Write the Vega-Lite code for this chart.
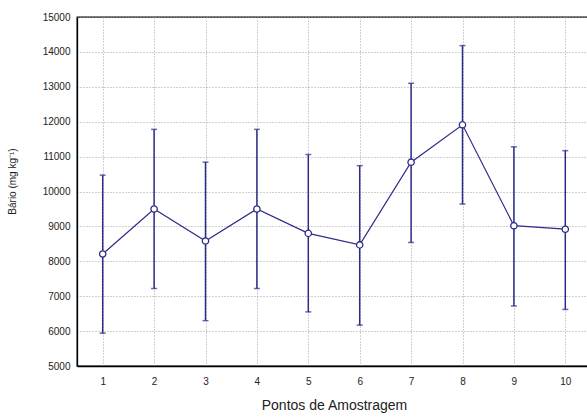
{
  "$schema": "https://vega.github.io/schema/vega-lite/v6.json",
  "autosize": "none",
  "padding": {"left": 77, "top": 17, "right": 0, "bottom": 52},
  "width": 514,
  "height": 349,
  "background": "white",
  "config": {
    "font": "Liberation Sans",
    "view": {"stroke": "#000000", "strokeWidth": 1.3},
    "axis": {
      "gridColor": "#a0a0a0",
      "gridDash": [1, 2],
      "gridOpacity": 1,
      "gridWidth": 1,
      "domain": true,
      "domainColor": "#000000",
      "domainWidth": 1.3,
      "ticks": false,
      "labelColor": "#222222",
      "labelFontSize": 10,
      "labelOverlap": false,
      "labelBound": false,
      "titleColor": "#222222",
      "titleFontWeight": "normal"
    }
  },
  "data": {
    "values": [
      {"ponto": 1, "media": 8210, "inf": 5940, "sup": 10470},
      {"ponto": 2, "media": 9500, "inf": 7220, "sup": 11780},
      {"ponto": 3, "media": 8580, "inf": 6300, "sup": 10840},
      {"ponto": 4, "media": 9500, "inf": 7220, "sup": 11780},
      {"ponto": 5, "media": 8800, "inf": 6550, "sup": 11060},
      {"ponto": 6, "media": 8470, "inf": 6170, "sup": 10740},
      {"ponto": 7, "media": 10840, "inf": 8540, "sup": 13100},
      {"ponto": 8, "media": 11910, "inf": 9640, "sup": 14180},
      {"ponto": 9, "media": 9020, "inf": 6720, "sup": 11280},
      {"ponto": 10, "media": 8920, "inf": 6620, "sup": 11170}
    ]
  },
  "encoding": {
    "x": {
      "field": "ponto",
      "type": "quantitative",
      "scale": {"domain": [0.5, 10.5], "nice": false, "zero": false},
      "axis": {
        "values": [1, 2, 3, 4, 5, 6, 7, 8, 9, 10],
        "title": "Pontos de Amostragem",
        "titleFontSize": 14,
        "titlePadding": 12,
        "labelPadding": 10
      }
    }
  },
  "layer": [
    {
      "mark": {"type": "rule", "color": "#2b2b8a", "strokeWidth": 1.5},
      "encoding": {
        "y": {
          "field": "inf",
          "type": "quantitative",
          "scale": {"domain": [5000, 15000], "nice": false, "zero": false},
          "axis": {
            "values": [5000, 6000, 7000, 8000, 9000, 10000, 11000, 12000, 13000, 14000, 15000],
            "format": "d",
            "title": "Bário (mg kg⁻¹)",
            "titleFontSize": 10,
            "titleX": -60,
            "titleY": 164,
            "labelPadding": 7
          }
        },
        "y2": {"field": "sup"}
      }
    },
    {
      "mark": {"type": "tick", "color": "#2b2b8a", "size": 6, "thickness": 1.5, "orient": "horizontal"},
      "encoding": {
        "y": {
          "field": "inf",
          "type": "quantitative",
          "axis": {
            "values": [5000, 6000, 7000, 8000, 9000, 10000, 11000, 12000, 13000, 14000, 15000],
            "format": "d",
            "title": "Bário (mg kg⁻¹)",
            "titleFontSize": 10,
            "titleX": -60,
            "titleY": 164,
            "labelPadding": 7
          }
        }
      }
    },
    {
      "mark": {"type": "tick", "color": "#2b2b8a", "size": 6, "thickness": 1.5, "orient": "horizontal"},
      "encoding": {
        "y": {
          "field": "sup",
          "type": "quantitative",
          "axis": {
            "values": [5000, 6000, 7000, 8000, 9000, 10000, 11000, 12000, 13000, 14000, 15000],
            "format": "d",
            "title": "Bário (mg kg⁻¹)",
            "titleFontSize": 10,
            "titleX": -60,
            "titleY": 164,
            "labelPadding": 7
          }
        }
      }
    },
    {
      "mark": {"type": "line", "color": "#2b2b8a", "strokeWidth": 1.2},
      "encoding": {
        "y": {
          "field": "media",
          "type": "quantitative",
          "axis": {
            "values": [5000, 6000, 7000, 8000, 9000, 10000, 11000, 12000, 13000, 14000, 15000],
            "format": "d",
            "title": "Bário (mg kg⁻¹)",
            "titleFontSize": 10,
            "titleX": -60,
            "titleY": 164,
            "labelPadding": 7
          }
        }
      }
    },
    {
      "mark": {"type": "point", "shape": "circle", "filled": true, "fill": "white", "stroke": "#2b2b8a", "strokeWidth": 1.3, "size": 40, "opacity": 1},
      "encoding": {
        "y": {
          "field": "media",
          "type": "quantitative",
          "axis": {
            "values": [5000, 6000, 7000, 8000, 9000, 10000, 11000, 12000, 13000, 14000, 15000],
            "format": "d",
            "title": "Bário (mg kg⁻¹)",
            "titleFontSize": 10,
            "titleX": -60,
            "titleY": 164,
            "labelPadding": 7
          }
        }
      }
    }
  ]
}
